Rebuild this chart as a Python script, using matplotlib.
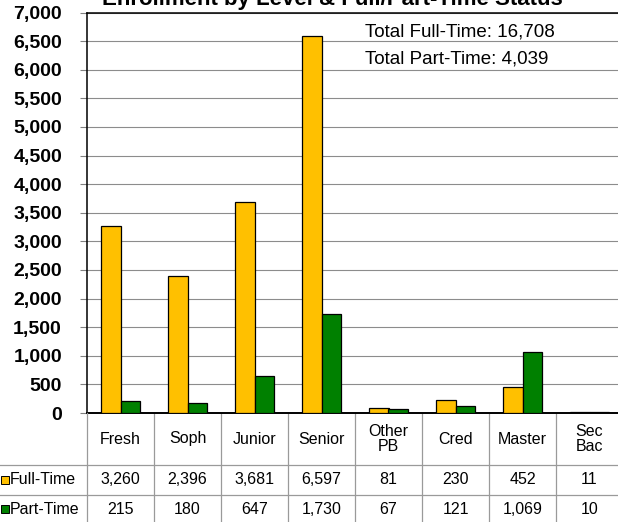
import numpy as np
import matplotlib
matplotlib.use("Agg")
import matplotlib.pyplot as plt
from matplotlib.transforms import blended_transform_factory

plt.rcParams["font.family"] = ["Liberation Sans", "DejaVu Sans"]

levels = ["Fresh", "Soph", "Junior", "Senior", "Other\nPB", "Cred", "Master", "Sec\nBac"]
full_time = [3260, 2396, 3681, 6597, 81, 230, 452, 11]
part_time = [215, 180, 647, 1730, 67, 121, 1069, 10]
series = ["Full-Time", "Part-Time"]
colours = ["#FFC000", "#008000"]
title = "Enrollment by Level & Full/Part-Time Status"
notes = ["Total Full-Time: 16,708", "Total Part-Time: 4,039"]

W, H = 618, 522
fig = plt.figure(figsize=(W / 100, H / 100), dpi=100)

# plot area in pixel terms (top-left origin)
x0, x1, y0, y1 = 87, 623, 12.5, 413
ax = fig.add_axes([x0 / W, 1 - y1 / H, (x1 - x0) / W, (y1 - y0) / H])

x = np.arange(len(levels))
bw = 0.29
ax.bar(x - bw / 2, full_time, bw, color=colours[0], edgecolor="black", lw=0.9, zorder=3)
ax.bar(x + bw / 2, part_time, bw, color=colours[1], edgecolor="black", lw=0.9, zorder=3)

ax.set_xlim(-0.5, len(levels) - 0.5)
ax.set_ylim(0, 7000)
ax.set_yticks(np.arange(0, 7001, 500))
ax.set_yticklabels([f"{v:,}" for v in range(0, 7001, 500)], fontweight="bold", fontsize=14)
ax.tick_params(axis="y", length=5, width=0.8, color="#808080", pad=13)
ax.set_xticks([])
ax.grid(axis="y", color="#8c8c8c", lw=0.8, zorder=0)
for s in ("left", "top", "right"):
    ax.spines[s].set_linewidth(1.1)
ax.spines["bottom"].set_linewidth(1.4)

fig.text(332 / W, 1 - 4.5 / H, title, ha="center", va="baseline", fontsize=16, fontweight="bold")
for i, t in enumerate(notes):
    fig.text(365 / W, 1 - (32 + 27 * i) / H, t, ha="left", va="center", fontsize=13.5)

# data table under the axis
tr = blended_transform_factory(ax.transData, fig.transFigure)
fy = lambda px: 1 - px / H
rows = [413, 465, 495, 530]
grid_c = "#9a9a9a"
for k in range(1, len(levels)):
    ax.plot([k - 0.5] * 2, [fy(rows[0]), fy(rows[-1])], transform=tr, color=grid_c,
            lw=0.9, clip_on=False)
for r in rows[1:3]:
    fig.add_artist(plt.Line2D([0, 1], [fy(r)] * 2, color=grid_c, lw=0.9))
fig.add_artist(plt.Line2D([x0 / W] * 2, [fy(rows[0]), 0], color=grid_c, lw=0.9))

for i, lab in enumerate(levels):
    ax.text(i, fy(439), lab, transform=tr, ha="center", va="center", fontsize=11.5,
            linespacing=1.0)
    ax.text(i, fy(480), f"{full_time[i]:,}", transform=tr, ha="center", va="center", fontsize=11.5)
    ax.text(i, fy(509), f"{part_time[i]:,}", transform=tr, ha="center", va="center", fontsize=11.5)

for j, (name, c) in enumerate(zip(series, colours)):
    yc = fy(480 + 29 * j)
    fig.add_artist(plt.Rectangle((1.5 / W, yc - 4 / H), 7.5 / W, 8 / H, facecolor=c,
                                 edgecolor="black", lw=0.7))
    fig.text(10 / W, yc, name, ha="left", va="center", fontsize=11.5)

fig.savefig("out.png", dpi=100)
